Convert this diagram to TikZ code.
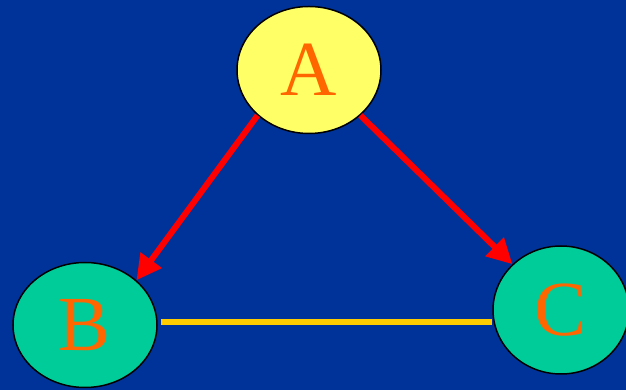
\documentclass[tikz,border=0pt]{standalone}
\usepackage{fontspec}
\setmainfont{Liberation Serif}
\usetikzlibrary{shapes.geometric,arrows.meta}
\definecolor{NightBlue}{HTML}{003399}
\definecolor{LemonFill}{HTML}{FFFF66}
\definecolor{SeaGreen}{HTML}{00CC99}
\definecolor{LetterOrange}{HTML}{FF6600}
\definecolor{EdgeGold}{HTML}{FFCC00}

\begin{document}
\begin{tikzpicture}[x=1pt,y=1pt]
  \fill[NightBlue] (0,0) rectangle (626,390);
  \useasboundingbox (0,0) rectangle (626,390);
  \node[ellipse,draw,line width=1.5pt,fill=LemonFill,minimum width=144pt,minimum height=127pt,inner sep=0pt] (A) at (309,320)
    {\fontsize{78}{80}\selectfont\color{LetterOrange}A};
  \node[ellipse,draw,line width=1.5pt,fill=SeaGreen,minimum width=144pt,minimum height=125pt,inner sep=0pt] (B) at (85,65)
    {\fontsize{78}{80}\selectfont\color{LetterOrange}\raisebox{-4pt}{B}};
  \node[ellipse,draw,line width=1.5pt,fill=SeaGreen,minimum width=136pt,minimum height=128pt,inner sep=0pt] (C) at (561,80)
    {\fontsize{78}{80}\selectfont\color{LetterOrange}\raisebox{-4pt}{C}};
  \draw[-{Triangle[length=25pt,width=25pt]},line width=6pt,red] (A.south west) -- (B.north east);
  \draw[-{Triangle[length=25pt,width=25pt]},line width=6pt,red] (A.south east) -- (C.north west);
  \draw[line width=6pt,EdgeGold] ([xshift=3pt,yshift=3pt]B.east) -- ([yshift=3pt]B.east -| C.west);
\end{tikzpicture}
\end{document}
